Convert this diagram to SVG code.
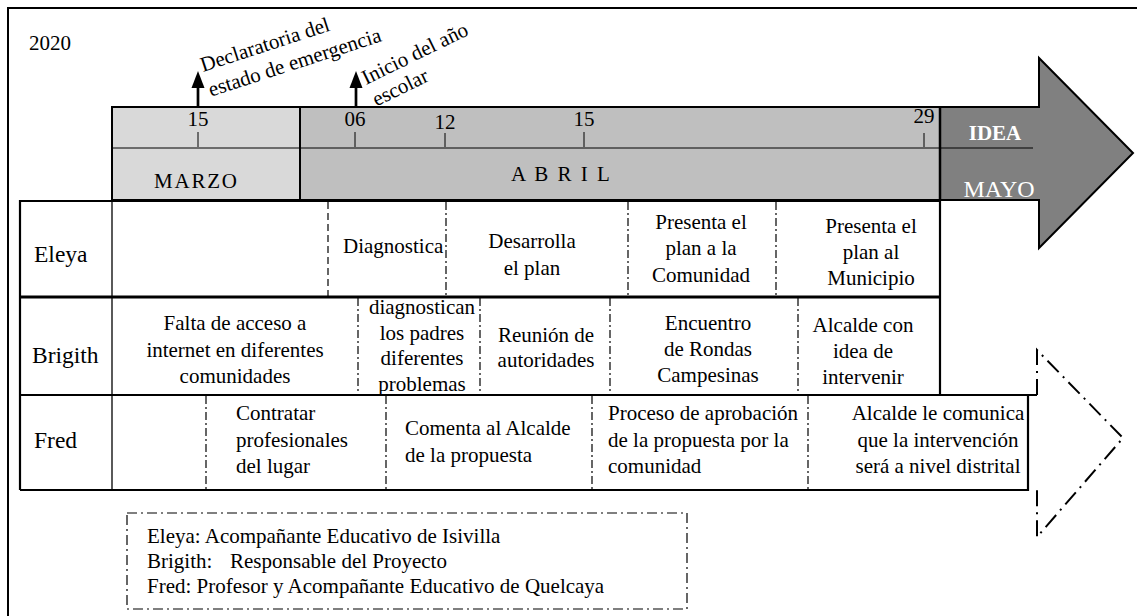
<svg xmlns="http://www.w3.org/2000/svg" width="1137" height="616" viewBox="0 0 1137 616">
<style>
text{font-family:"Liberation Serif","Times New Roman",serif;font-size:21px;fill:#000}
.lbl{font-size:23.5px}
.c{text-anchor:middle}
.wh{fill:#fff}
.solid{stroke:#000;fill:none}
.dd{stroke:#000;stroke-width:1.2;stroke-dasharray:8 3 2 3;fill:none}
.dsh{stroke:#000;stroke-width:1.2;stroke-dasharray:7 4;fill:none}
.tick{stroke:#000;stroke-width:1}
.ev{stroke:#000;stroke-width:2.7}
.head{fill:#000}
</style>
<rect x="0" y="0" width="1137" height="616" fill="#fff"/>
<path d="M8,616 L8,8 L1137,8" class="solid" stroke-width="2"/>
<text id="year" x="29" y="50">2020</text>

<g id="timeline">
<rect x="112" y="107" width="188" height="93" fill="#d9d9d9"/>
<rect x="300" y="107" width="640" height="93" fill="#bfbfbf"/>
<line x1="112" y1="148" x2="940" y2="148" class="tick"/>
<rect x="112" y="107" width="828" height="93" class="solid" stroke-width="2"/>
<line x1="300" y1="107" x2="300" y2="200" class="solid" stroke-width="2"/>
<line x1="198" y1="132" x2="198" y2="147" class="tick"/>
<line x1="355" y1="132" x2="355" y2="147" class="tick"/>
<line x1="445" y1="133" x2="445" y2="147" class="tick"/>
<line x1="584" y1="132" x2="584" y2="147" class="tick"/>
<line x1="924" y1="133" x2="924" y2="147" class="tick"/>
<text class="c" x="198" y="126">15</text>
<text class="c" x="355" y="126">06</text>
<text class="c" x="445" y="129">12</text>
<text class="c" x="584" y="126">15</text>
<text class="c" x="924" y="123">29</text>
<text x="154" y="188" style="letter-spacing:1.8px">MARZO</text>
<text x="511" y="181" style="letter-spacing:2px">A B R I L</text>
</g>

<g id="may-arrow">
<path d="M940,107 L1039,107 L1039,58 L1133,153 L1039,248 L1039,200 L940,200 Z" fill="#808080" stroke="#000" stroke-width="2"/>
<line x1="940" y1="148" x2="1033" y2="148" class="tick"/>
<line x1="940" y1="107" x2="940" y2="200" class="solid" stroke-width="2.5"/>
<text class="wh c" x="995" y="140" style="font-weight:bold">IDEA</text>
<text class="wh c" x="999" y="197" style="font-size:24px">MAYO</text>
</g>

<g id="events">
<line x1="198" y1="107" x2="198" y2="86" class="ev"/>
<path d="M191.5,88 L204.5,88 L198,71 Z" class="head"/>
<line x1="356" y1="107" x2="356" y2="86" class="ev"/>
<path d="M349.5,88 L362.5,88 L356,71 Z" class="head"/>
<g transform="translate(203,72) rotate(-18)">
<text x="0" y="0">Declaratoria del</text>
<text x="0" y="26">estado de emergencia</text>
</g>
<g transform="translate(366,85) rotate(-26)">
<text x="0" y="0">Inicio del año</text>
<text x="0" y="24">escolar</text>
</g>
</g>

<g id="row-eleya">
<text class="lbl" x="34" y="262">Eleya</text>
<line x1="328" y1="202" x2="328" y2="296" class="dsh"/>
<line x1="446" y1="202" x2="446" y2="296" class="dd"/>
<line x1="628" y1="202" x2="628" y2="296" class="dd"/>
<line x1="776" y1="202" x2="776" y2="296" class="dd"/>
<text x="343" y="253">Diagnostica</text>
<text class="c" x="532" y="248">Desarrolla</text>
<text class="c" x="532" y="275">el plan</text>
<text class="c" x="701" y="229">Presenta el</text>
<text class="c" x="701" y="255">plan a la</text>
<text class="c" x="701" y="282">Comunidad</text>
<text class="c" x="871" y="233">Presenta el</text>
<text class="c" x="871" y="259">plan al</text>
<text class="c" x="871" y="285">Municipio</text>
</g>

<g id="row-brigith">
<text class="lbl" x="32" y="363">Brigith</text>
<line x1="358" y1="298" x2="358" y2="394" class="dd"/>
<line x1="480" y1="298" x2="480" y2="394" class="dd"/>
<line x1="610" y1="298" x2="610" y2="394" class="dd"/>
<line x1="798" y1="298" x2="798" y2="394" class="dd"/>
<text class="c" x="235" y="330">Falta de acceso a</text>
<text class="c" x="235" y="357">internet en diferentes</text>
<text class="c" x="235" y="383">comunidades</text>
<text class="c" x="422" y="314">diagnostican</text>
<text class="c" x="422" y="340">los padres</text>
<text class="c" x="422" y="365">diferentes</text>
<text class="c" x="422" y="391">problemas</text>
<text class="c" x="546" y="342">Reunión de</text>
<text class="c" x="546" y="367">autoridades</text>
<text class="c" x="708" y="330">Encuentro</text>
<text class="c" x="708" y="356">de Rondas</text>
<text class="c" x="708" y="382">Campesinas</text>
<text class="c" x="863" y="332">Alcalde con</text>
<text class="c" x="863" y="358">idea de</text>
<text class="c" x="863" y="384">intervenir</text>
</g>

<g id="row-fred">
<text class="lbl" x="34" y="448">Fred</text>
<line x1="206" y1="396" x2="206" y2="489" class="dd"/>
<line x1="386" y1="396" x2="386" y2="489" class="dd"/>
<line x1="592" y1="396" x2="592" y2="489" class="dd"/>
<line x1="808" y1="396" x2="808" y2="489" class="dd"/>
<text x="236" y="420">Contratar</text>
<text x="236" y="447">profesionales</text>
<text x="236" y="473">del lugar</text>
<text x="405" y="435">Comenta al Alcalde</text>
<text x="405" y="462">de la propuesta</text>
<text x="608" y="420">Proceso de aprobación</text>
<text x="608" y="447">de la propuesta por la</text>
<text x="608" y="473">comunidad</text>
<text class="c" x="938" y="420">Alcalde le comunica</text>
<text class="c" x="938" y="447">que la intervención</text>
<text class="c" x="938" y="473">será a nivel distrital</text>
</g>

<g id="grid">
<line x1="112" y1="201" x2="112" y2="489" class="solid" stroke-width="1.3"/>
<path d="M20,490 L20,201 L940,201 L940,395" class="solid" stroke-width="2.2"/>
<line x1="20" y1="297" x2="940" y2="297" class="solid" stroke-width="3"/>
<path d="M20,395 L1037,395" class="solid" stroke-width="2.2"/>
<path d="M1028,395 L1028,490 L20,490" class="solid" stroke-width="2.2"/>
</g>

<g id="ghost-arrow">
<path d="M1037,395 L1037,350 L1123,438 L1037,537 L1037,488" fill="none" stroke="#000" stroke-width="2" stroke-dasharray="16 6 2 6"/>
</g>

<g id="legend">
<rect x="127" y="513" width="560" height="96" fill="none" stroke="#000" stroke-width="1.2" stroke-dasharray="10 4 2 4"/>
<text x="147" y="543">Eleya: Acompañante Educativo de Isivilla</text>
<text y="568"><tspan x="147">Brigith:</tspan><tspan x="230">Responsable del Proyecto</tspan></text>
<text x="147" y="593">Fred: Profesor y Acompañante Educativo de Quelcaya</text>
</g>
</svg>
